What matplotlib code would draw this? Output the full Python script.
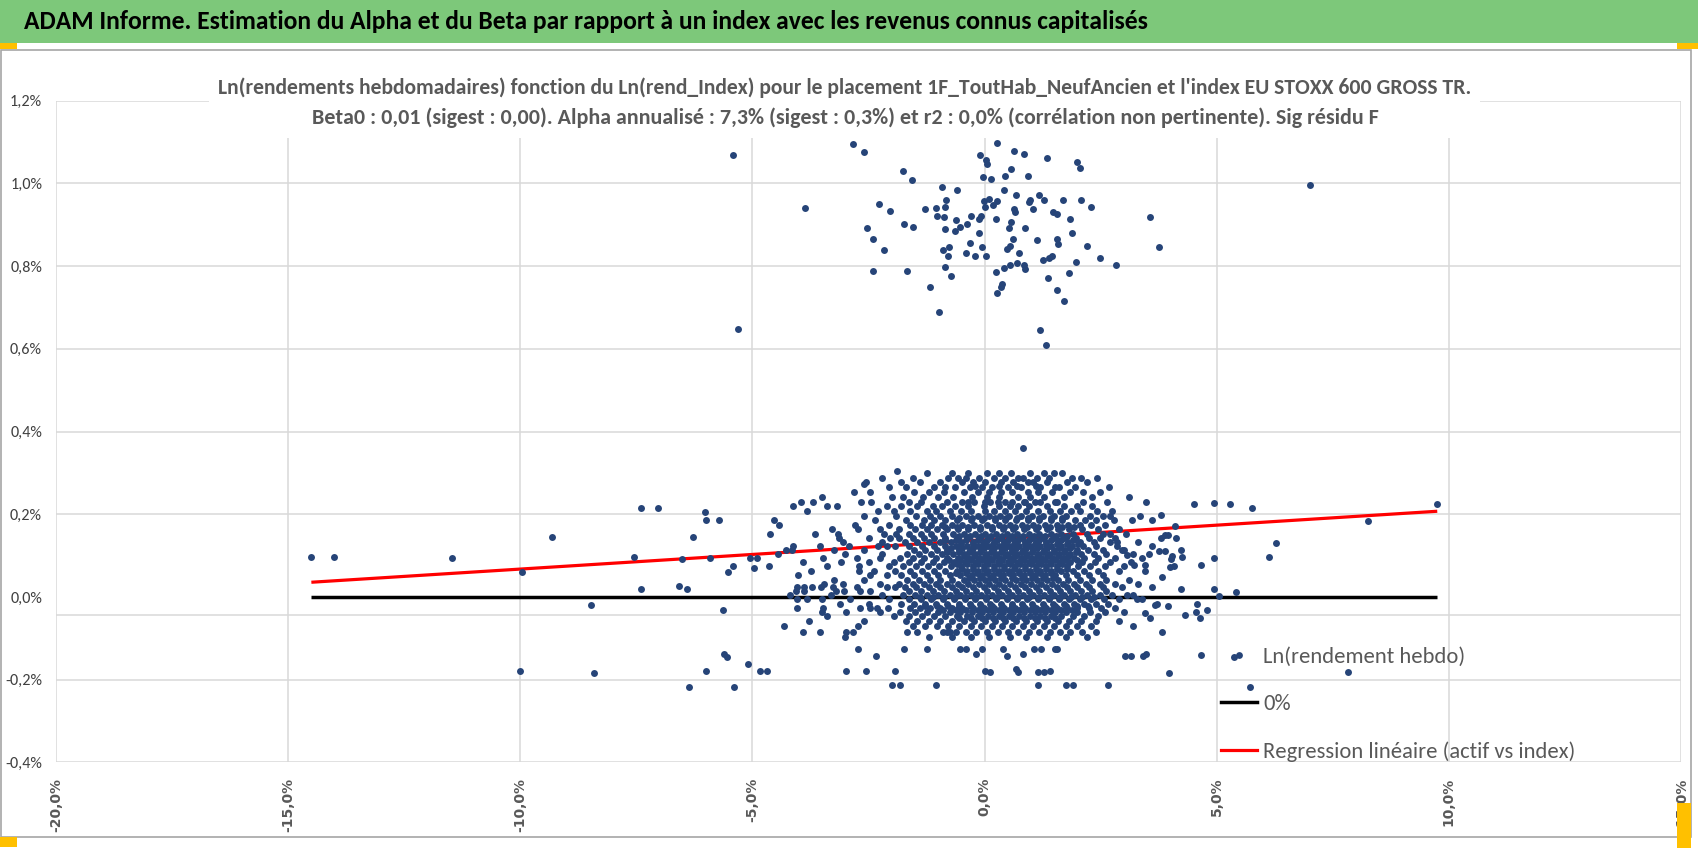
import numpy as np
import matplotlib
matplotlib.use('Agg')
import matplotlib.pyplot as plt
from matplotlib import font_manager
from matplotlib.lines import Line2D
from matplotlib.patches import Rectangle

# ---------------- texts ----------------
title_text = "ADAM Informe. Estimation du Alpha et du Beta par rapport à un index avec les revenus connus capitalisés"
subtitle_1 = ("Ln(rendements hebdomadaires) fonction du Ln(rend_Index) pour le placement "
              "1F_ToutHab_NeufAncien et l'index EU STOXX 600 GROSS TR.")
subtitle_2 = ("Beta0 : 0,01 (sigest : 0,00). Alpha annualisé : 7,3% (sigest : 0,3%) et r2 : 0,0% "
              "(corrélation non pertinente). Sig résidu F")
series_labels = ['Ln(rendement hebdo)', '0%', 'Regression linéaire (actif vs index)']

x_ticks = [-20, -15, -10, -5, 0, 5, 10, 15]
x_tick_labels = ['-20,0%', '-15,0%', '-10,0%', '-5,0%', '0,0%', '5,0%', '10,0%', '15,0%']
y_ticks = [-0.4, -0.2, 0.0, 0.2, 0.4, 0.6, 0.8, 1.0, 1.2]
y_tick_labels = ['-0,4%', '-0,2%', '0,0%', '0,2%', '0,4%', '0,6%', '0,8%', '1,0%', '1,2%']

# regression and reference level (in %)
reg_slope = 0.00708
reg_intercept = 0.1381
zero_level = 0.0

# ---------------- data (x = Ln rend index %, y = Ln rend hebdo %) ----------------
upper_pts = [
    (-5.42, 1.068), (-2.84, 1.095), (-2.59, 1.075), (-1.75, 1.029), (-1.57, 1.008), (0.27, 1.098),
    (0.63, 1.078), (0.84, 1.071), (1.34, 1.062), (1.98, 1.052), (2.06, 1.038), (-0.09, 1.068),
    (0.02, 1.056), (0.05, 1.048), (-0.04, 1.016), (0.13, 1.011), (0.43, 1.018), (0.57, 1.034),
    (0.93, 1.018), (-0.91, 0.992), (-0.59, 0.985), (0.41, 0.985), (0.68, 0.972), (-3.86, 0.941),
    (-2.27, 0.949), (-2.04, 0.933), (-1.29, 0.939), (-1.04, 0.941), (-0.86, 0.944), (-0.84, 0.959),
    (-1.02, 0.921), (-0.88, 0.918), (-0.61, 0.911), (-0.02, 0.957), (0.09, 0.962), (0.27, 0.957),
    (0.00, 0.944), (0.18, 0.948), (0.64, 0.937), (0.66, 0.930), (0.95, 0.956), (0.97, 0.959),
    (1.18, 0.971), (1.29, 0.959), (1.04, 0.938), (1.47, 0.932), (1.55, 0.925), (1.68, 0.959),
    (2.07, 0.959), (2.29, 0.944), (1.84, 0.915), (3.57, 0.919), (3.75, 0.845), (-2.54, 0.892),
    (-2.40, 0.866), (-2.16, 0.840), (-1.73, 0.902), (-1.54, 0.895), (-0.86, 0.889), (-0.63, 0.886),
    (-0.54, 0.895), (-0.38, 0.902), (-0.29, 0.922), (-0.13, 0.913), (-0.07, 0.921), (0.25, 0.913),
    (0.57, 0.906), (0.52, 0.892), (0.86, 0.892), (-0.13, 0.879), (0.61, 0.866), (1.13, 0.862),
    (1.57, 0.865), (1.59, 0.854), (1.88, 0.879), (2.20, 0.849), (-0.89, 0.839), (-0.77, 0.845),
    (-0.79, 0.825), (-0.39, 0.832), (-0.31, 0.856), (-0.21, 0.825), (-0.05, 0.845), (0.04, 0.825),
    (0.48, 0.841), (0.54, 0.849), (0.75, 0.832), (1.25, 0.815), (1.38, 0.819), (1.45, 0.825),
    (1.97, 0.809), (2.48, 0.819), (2.82, 0.802), (-2.40, 0.789), (-1.68, 0.789), (-0.86, 0.799),
    (-0.73, 0.776), (0.41, 0.795), (0.55, 0.802), (0.70, 0.808), (0.84, 0.802), (0.88, 0.792),
    (0.25, 0.785), (1.36, 0.772), (1.81, 0.783), (0.38, 0.757), (0.36, 0.749), (0.27, 0.736),
    (-1.18, 0.749), (1.55, 0.742), (1.72, 0.716), (-0.98, 0.689), (-5.31, 0.648), (1.20, 0.645),
    (1.32, 0.610), (7.01, 0.995),
]

left_pts = [
    (-14.50, 0.0975), (-14.02, 0.0975), (-11.48, 0.094), (-9.96, 0.060), (-9.31, 0.145),
    (-8.48, -0.020), (-10.00, -0.179), (-8.42, -0.183), (-7.56, 0.0975), (-7.39, 0.216),
    (-7.04, 0.216), (-7.39, 0.019), (-6.59, 0.027), (-6.40, 0.019), (-6.52, 0.091), (-6.29, 0.145),
    (-6.03, 0.206), (-6.01, 0.185), (-5.72, 0.185), (-5.92, 0.094), (-5.53, 0.060), (-5.41, 0.074),
    (-5.63, -0.031), (-5.61, -0.139), (-5.55, -0.145), (-6.01, -0.180), (-6.37, -0.217),
    (-5.40, -0.217), (-5.09, -0.163), (-4.83, -0.180), (-4.68, -0.180), (-4.97, 0.071),
    (-5.06, 0.093), (-1.89, 0.304), (-2.60, 0.274),
]

right_pts = [
    (4.52, 0.225), (4.95, 0.228), (5.29, 0.225), (5.77, 0.214), (9.75, 0.225), (8.26, 0.184),
    (3.80, 0.198), (4.10, 0.171), (3.81, 0.143), (3.88, 0.149), (3.96, 0.150), (4.13, 0.143),
    (3.75, 0.110), (3.89, 0.110), (4.01, 0.091), (4.03, 0.098), (4.24, 0.114), (4.26, 0.096),
    (3.99, 0.073), (4.09, 0.075), (3.83, 0.049), (4.66, 0.076), (4.95, 0.093), (6.27, 0.130),
    (6.12, 0.096), (4.24, 0.019), (4.95, 0.019), (5.04, 0.002), (5.42, 0.011), (3.67, -0.019),
    (3.94, -0.022), (4.57, -0.018), (4.55, -0.036), (4.31, -0.043), (4.79, -0.032), (4.64, -0.052),
    (3.57, -0.052), (3.82, -0.086), (4.66, -0.140), (5.37, -0.145), (3.98, -0.185), (7.82, -0.181),
    (5.72, -0.218), (2.71, 0.153), (2.85, 0.133), (2.96, 0.113), (3.07, 0.101), (3.21, 0.077),
    (3.46, 0.077), (3.07, 0.004), (3.28, -0.004), (3.46, -0.040), (3.71, -0.016),
]

low_pts = [
    (-2.73, -0.125), (-1.73, -0.125), (-1.25, -0.125), (-0.54, -0.125), (-0.40, -0.125),
    (-0.06, -0.125), (0.39, -0.125), (1.07, -0.125), (1.22, -0.125), (1.52, -0.125), (1.57, -0.125),
    (-2.34, -0.143), (-0.18, -0.139), (0.48, -0.143), (0.83, -0.139), (3.02, -0.143), (3.16, -0.143),
    (3.42, -0.143), (3.47, -0.139), (-2.98, -0.179), (-2.55, -0.179), (-1.94, -0.179), (0.01, -0.179),
    (0.12, -0.181), (0.68, -0.175), (0.72, -0.181), (1.16, -0.181), (1.27, -0.181), (1.40, -0.179),
    (-2.00, -0.212), (-1.83, -0.212), (-1.04, -0.212), (1.16, -0.212), (1.76, -0.212), (1.90, -0.212),
    (2.65, -0.212), (0.82, 0.361),
]

core_rows_y = [0.300, 0.288, 0.278, 0.266, 0.254, 0.242, 0.230, 0.219, 0.207, 0.196, 0.185, 0.174,
               0.164, 0.153, 0.143, 0.133, 0.123, 0.113, 0.103, 0.094, 0.084, 0.074, 0.063, 0.052,
               0.042, 0.032, 0.024, 0.015, 0.005, -0.006, -0.016, -0.026, -0.036, -0.047, -0.058,
               -0.071, -0.085, -0.098]
core_rows_x = [
    [-1.25, -0.70, -0.35, 0.05, 0.30, 0.57, 0.98, 1.28, 1.49, 1.67],
    [-2.20, -1.55, -0.78, -0.58, -0.40, -0.11, 0.20, 0.45, 0.72, 0.83, 1.13, 1.39, 1.88, 2.07, 2.42],
    [-2.55, -1.80, -1.40, -0.95, -0.48, -0.24, 0.00, 0.36, 0.62, 0.93, 1.05, 1.34, 1.77, 2.20],
    [-2.05, -1.70, -1.10, -0.86, -0.63, -0.32, -0.05, 0.17, 0.50, 0.79, 1.20, 1.52, 1.61, 1.95, 2.69],
    [-2.81, -2.47, -1.52, -1.20, -0.88, -0.45, -0.15, 0.10, 0.36, 0.59, 0.93, 1.14, 1.45, 1.83, 2.13, 2.48],
    [-3.50, -2.00, -1.75, -1.32, -1.00, -0.67, -0.27, 0.05, 0.30, 0.71, 0.98, 1.27, 1.70, 2.31, 3.10],
    [-3.96, -3.70, -2.67, -2.45, -1.62, -1.38, -0.81, -0.49, -0.22, 0.12, 0.45, 0.84, 1.09, 1.52, 2.13, 2.63, 3.47],
    [-4.13, -3.40, -3.17, -2.11, -1.79, -1.45, -1.12, -0.92, -0.63, -0.35, -0.02, 0.30, 0.55, 0.73, 0.95, 1.34, 1.70, 1.99, 2.31],
    [-3.83, -2.30, -1.95, -1.60, -1.25, -1.05, -0.75, -0.50, -0.30, 0.00, 0.20, 0.43, 0.66, 0.90, 1.15, 1.40, 1.62, 1.87, 2.05, 2.42, 2.75],
    [-2.60, -1.90, -1.48, -1.18, -0.97, -0.70, -0.40, -0.15, 0.10, 0.33, 0.52, 0.78, 1.02, 1.25, 1.50, 1.76, 2.26, 2.55, 2.71, 3.35],
    [-4.53, -2.35, -1.70, -1.30, -1.08, -0.85, -0.60, -0.30, -0.05, 0.22, 0.45, 0.68, 0.93, 1.18, 1.42, 1.66, 1.95, 2.16, 2.40, 2.78, 3.17, 3.60],
    [-4.42, -2.80, -2.05, -1.60, -1.35, -1.15, -0.92, -0.70, -0.48, -0.22, 0.05, 0.30, 0.55, 0.80, 1.05, 1.30, 1.55, 1.80, 2.05, 2.30, 2.60],
    [-3.29, -2.72, -2.25, -1.85, -1.50, -1.25, -1.02, -0.80, -0.58, -0.35, -0.10, 0.15, 0.40, 0.62, 0.85, 1.10, 1.35, 1.58, 1.82, 2.10, 2.45, 2.90],
    [-4.62, -3.66, -3.15, -2.17, -1.90, -1.62, -1.38, -1.15, -0.90, -0.68, -0.45, -0.20, 0.00, 0.25, 0.48, 0.70, 0.95, 1.18, 1.42, 1.65, 1.90, 2.20, 2.55, 3.05],
    [-3.13, -2.48, -2.04, -1.84, -1.55, -1.30, -1.08, -0.85, -0.60, -0.38, -0.12, 0.10, 0.35, 0.58, 0.80, 1.02, 1.25, 1.50, 1.72, 1.96, 2.25, 2.48, 2.80],
    [-3.04, -2.20, -1.72, -1.45, -1.20, -0.95, -0.72, -0.50, -0.25, -0.02, 0.20, 0.42, 0.65, 0.88, 1.10, 1.33, 1.58, 1.80, 2.05, 2.35, 2.70, 3.30],
    [-4.12, -3.54, -2.91, -2.29, -2.11, -1.93, -1.62, -1.35, -1.10, -0.85, -0.62, -0.38, -0.15, 0.08, 0.30, 0.52, 0.75, 0.98, 1.20, 1.42, 1.65, 1.88, 2.12, 2.40, 2.85, 3.60],
    [-4.28, -4.15, -3.24, -2.60, -1.53, -1.28, -1.02, -0.80, -0.55, -0.30, -0.08, 0.15, 0.38, 0.60, 0.82, 1.05, 1.28, 1.50, 1.73, 1.98, 2.22, 2.55, 3.00],
    [-4.44, -3.00, -2.22, -1.68, -1.42, -1.15, -0.92, -0.68, -0.45, -0.20, 0.02, 0.25, 0.48, 0.70, 0.92, 1.15, 1.38, 1.60, 1.85, 2.08, 2.35, 2.62, 3.20, 3.55],
    [-4.91, -3.47, -2.75, -2.25, -1.82, -1.55, -1.30, -1.05, -0.80, -0.58, -0.35, -0.12, 0.10, 0.32, 0.55, 0.78, 1.00, 1.22, 1.45, 1.68, 1.92, 2.15, 2.45, 2.80, 3.40],
    [-3.92, -3.10, -2.50, -1.95, -1.62, -1.38, -1.12, -0.88, -0.65, -0.42, -0.18, 0.05, 0.28, 0.50, 0.72, 0.95, 1.18, 1.40, 1.62, 1.85, 2.10, 2.38, 2.70, 3.15],
    [-4.65, -3.40, -2.70, -2.05, -1.75, -1.48, -1.22, -0.98, -0.72, -0.50, -0.25, -0.02, 0.20, 0.42, 0.65, 0.88, 1.10, 1.32, 1.55, 1.78, 2.02, 2.28, 2.60, 3.00],
    [-3.74, -2.70, -2.38, -1.93, -1.60, -1.35, -1.10, -0.85, -0.60, -0.38, -0.15, 0.08, 0.30, 0.52, 0.75, 0.98, 1.20, 1.42, 1.65, 1.90, 2.15, 2.45, 2.90, 3.45],
    [-4.02, -2.47, -2.10, -1.79, -1.53, -1.25, -1.00, -0.75, -0.52, -0.28, -0.05, 0.18, 0.40, 0.62, 0.85, 1.08, 1.30, 1.52, 1.75, 2.00, 2.25, 2.55],
    [-3.25, -2.60, -1.68, -1.42, -1.18, -0.95, -0.70, -0.45, -0.22, 0.00, 0.22, 0.45, 0.68, 0.90, 1.12, 1.35, 1.58, 1.80, 2.05, 2.32, 2.62, 3.10],
    [-3.45, -3.04, -2.25, -1.85, -1.55, -1.30, -1.05, -0.80, -0.58, -0.35, -0.12, 0.10, 0.32, 0.55, 0.78, 1.00, 1.22, 1.45, 1.68, 1.92, 2.18, 2.48, 2.80, 3.30],
    [-4.05, -3.90, -3.71, -3.53, -3.26, -2.74, -2.11, -1.93, -1.72, -1.48, -1.20, -0.95, -0.70, -0.48, -0.25, -0.02, 0.20, 0.42, 0.65, 0.88, 1.10, 1.32, 1.55, 1.78, 2.00, 2.25, 2.55, 2.95, 3.60],
    [-4.06, -3.88, -3.19, -3.03, -2.68, -2.47, -1.62, -1.38, -1.12, -0.88, -0.62, -0.40, -0.18, 0.05, 0.28, 0.50, 0.72, 0.95, 1.18, 1.40, 1.62, 1.85, 2.08, 2.32, 2.62],
    [-4.20, -3.30, -2.20, -1.75, -1.50, -1.25, -1.00, -0.75, -0.52, -0.30, -0.08, 0.15, 0.38, 0.60, 0.82, 1.05, 1.28, 1.50, 1.72, 1.95, 2.20, 2.48, 2.75, 3.20],
    [-4.05, -3.82, -3.51, -2.90, -2.05, -1.62, -1.38, -1.15, -0.90, -0.65, -0.42, -0.20, 0.02, 0.25, 0.48, 0.70, 0.92, 1.15, 1.38, 1.60, 1.82, 2.05, 2.30, 2.58, 2.90, 3.40],
    [-3.11, -2.50, -1.80, -1.52, -1.28, -1.05, -0.80, -0.55, -0.32, -0.10, 0.12, 0.35, 0.58, 0.80, 1.02, 1.25, 1.48, 1.70, 1.92, 2.15, 2.40, 2.65],
    [-4.04, -3.47, -2.68, -2.47, -2.31, -2.08, -1.61, -1.40, -1.18, -0.95, -0.70, -0.48, -0.25, -0.02, 0.20, 0.42, 0.65, 0.88, 1.10, 1.32, 1.55, 1.78, 2.00, 2.25, 2.50, 2.80],
    [-3.51, -2.99, -2.25, -1.82, -1.50, -1.25, -1.00, -0.75, -0.52, -0.28, -0.05, 0.18, 0.40, 0.62, 0.85, 1.08, 1.30, 1.52, 1.75, 2.00, 2.28, 2.60, 3.00],
    [-3.40, -1.95, -1.62, -1.35, -1.10, -0.85, -0.60, -0.38, -0.15, 0.08, 0.30, 0.52, 0.75, 0.98, 1.20, 1.42, 1.65, 1.90, 2.15, 2.45],
    [-3.78, -2.60, -1.70, -1.45, -1.20, -0.95, -0.70, -0.45, -0.22, 0.00, 0.22, 0.45, 0.68, 0.90, 1.12, 1.35, 1.58, 1.82, 2.08, 2.40, 2.90],
    [-4.32, -2.73, -1.55, -1.28, -1.02, -0.78, -0.55, -0.30, -0.08, 0.15, 0.38, 0.60, 0.82, 1.05, 1.28, 1.50, 1.75, 2.00, 2.30, 3.20],
    [-3.91, -3.54, -2.99, -2.83, -1.68, -1.45, -0.90, -0.82, -0.75, -0.62, -0.40, -0.18, 0.05, 0.28, 0.50, 0.72, 0.95, 1.18, 1.40, 1.62, 1.85, 2.10, 2.40],
    [-3.00, -1.20, -0.70, -0.30, 0.10, 0.55, 0.90, 1.35, 1.75, 2.20],
]

dense_rows_y = [0.268, 0.230, 0.190, 0.170, 0.148, 0.138, 0.128, 0.118, 0.108, 0.099, 0.089, 0.079,
                0.068, 0.057, 0.046, -0.001, -0.021, -0.031, -0.052]
dense_rows_x = [
    [-0.20, 0.30, 0.70, 1.10],
    [-0.35, 0.00, 0.28, 0.58, 0.88, 1.20, 1.55],
    [-0.55, -0.28, -0.02, 0.22, 0.46, 0.70, 0.94, 1.18, 1.42, 1.66],
    [-0.85, -0.60, -0.35, -0.10, 0.16, 0.42, 0.66, 0.92, 1.16, 1.40, 1.66, 1.92],
    [-0.55, -0.32, -0.08, 0.14, 0.37, 0.60, 0.83, 1.06, 1.30, 1.53, 1.77],
    [-0.85, -0.62, -0.40, -0.15, 0.05, 0.27, 0.50, 0.72, 0.95, 1.18, 1.42, 1.65, 1.90],
    [-0.50, -0.26, -0.03, 0.19, 0.41, 0.64, 0.86, 1.09, 1.32, 1.55, 1.78, 2.02],
    [-0.72, -0.48, -0.25, -0.02, 0.21, 0.45, 0.68, 0.90, 1.12, 1.35, 1.60, 1.83],
    [-0.80, -0.56, -0.33, -0.10, 0.13, 0.36, 0.58, 0.80, 1.03, 1.26, 1.49, 1.72, 1.96],
    [-0.45, -0.22, 0.00, 0.22, 0.44, 0.66, 0.89, 1.12, 1.35, 1.58, 1.80],
    [-0.76, -0.52, -0.30, -0.06, 0.16, 0.38, 0.61, 0.84, 1.07, 1.30, 1.52, 1.75, 1.98],
    [-0.60, -0.38, -0.14, 0.08, 0.31, 0.54, 0.76, 0.99, 1.22, 1.44, 1.66],
    [-0.48, -0.25, -0.02, 0.20, 0.42, 0.64, 0.87, 1.10, 1.32, 1.55, 1.78],
    [-0.62, -0.40, -0.16, 0.06, 0.28, 0.52, 0.75, 0.97, 1.20, 1.42],
    [-0.34, -0.10, 0.12, 0.35, 0.58, 0.80, 1.02, 1.25, 1.48],
    [-1.40, -1.12, -0.88, -0.64, -0.42, -0.18, 0.04, 0.27, 0.50, 0.72, 0.95, 1.18, 1.40, 1.63, 1.86, 2.10, 2.35],
    [-1.28, -1.02, -0.78, -0.55, -0.30, -0.08, 0.15, 0.38, 0.60, 0.82, 1.05, 1.28, 1.52, 1.75, 1.98, 2.22],
    [-0.90, -0.62, -0.40, -0.15, 0.08, 0.30, 0.52, 0.75, 0.98, 1.20, 1.42, 1.65, 1.88],
    [-0.55, -0.30, -0.05, 0.18, 0.40, 0.62, 0.85, 1.08, 1.30, 1.52],
]

# ---------------- assemble series ----------------
xs, ys = [], []
for grp in (upper_pts, left_pts, right_pts, low_pts):
    for px_, py_ in grp:
        xs.append(px_)
        ys.append(py_)
for rows_y, rows_x in ((core_rows_y, core_rows_x), (dense_rows_y, dense_rows_x)):
    for yv, row in zip(rows_y, rows_x):
        for xv in row:
            xs.append(xv)
            ys.append(yv)
xs = np.array(xs)
ys = np.array(ys)

# ---------------- fonts ----------------
avail = {f.name for f in font_manager.fontManager.ttflist}
narrow = 'Liberation Sans'
for cand in ['Carlito', 'Liberation Sans Narrow', 'Roboto Condensed', 'Open Sans Condensed',
             'DejaVu Sans Condensed', 'Noto Sans Condensed', 'Arial Narrow']:
    if cand in avail:
        narrow = cand
        break

W, H = 1698, 855
fig = plt.figure(figsize=(W / 100, H / 100), dpi=100)
fig.patch.set_facecolor('white')


def fx(px):
    return px / W


def fy(py):
    return 1 - py / H


renderer = fig.canvas.get_renderer()


def size_for(text, target_px, **kw):
    t = fig.text(0, 0, text, fontsize=14, **kw)
    w = t.get_window_extent(renderer).width
    t.remove()
    return 14 * target_px / w


def fit_width(t, target):
    w = t.get_window_extent(renderer).width
    t.set_fontsize(t.get_fontsize() * target / w)


ax_left, ax_right, ax_top, ax_bottom = 56, 1681, 100.7, 762.3
ax = fig.add_axes([fx(ax_left), fy(ax_bottom), (ax_right - ax_left) / W, (ax_bottom - ax_top) / H])
ax.set_xlim(-20, 15)
ax.set_ylim(-0.4, 1.2)

grid_c = '#D9D9D9'
for s in ax.spines.values():
    s.set_visible(False)
for xv in x_ticks:
    ax.axvline(xv, color=grid_c, lw=1.1, zorder=0)
for yv in y_ticks:
    if yv != zero_level:
        ax.axhline(yv, color=grid_c, lw=1.1, zorder=0)
ax.axhline(-0.0447, color=grid_c, lw=1.1, zorder=0)

# lines
x_line = np.array([xs.min(), xs.max()])
ax.plot(x_line, np.full(2, zero_level), color='black', lw=2.5, zorder=2, solid_capstyle='butt')
ax.plot(x_line, reg_intercept + reg_slope * x_line, color='#FF0000', lw=2.3, zorder=2,
        solid_capstyle='butt')
ax.scatter(xs, ys, s=25, color='#264478', linewidths=0, zorder=3)

ytick_fs = size_for('1,2%', 32, family=narrow)
ax.set_xticks(x_ticks)
ax.set_xticklabels(x_tick_labels, rotation=90, fontfamily='DejaVu Sans', fontweight='bold',
                   fontsize=10, color='#595959')
ax.set_yticks(y_ticks)
ax.set_yticklabels(y_tick_labels, fontfamily=narrow, fontsize=ytick_fs, color='#404040')
ax.tick_params(axis='both', length=0)
ax.tick_params(axis='x', pad=11)
ax.tick_params(axis='y', pad=10)

# legend
leg_fs = size_for(series_labels[2], 312, family=narrow)
fs_px = leg_fs * 100 / 72
handles = [Line2D([], [], ls='none', marker='o', ms=4.9, color='#264478', mew=0),
           Line2D([], [], color='black', lw=2.5),
           Line2D([], [], color='#FF0000', lw=2.3)]
leg = ax.legend(handles, series_labels, loc='upper left',
                bbox_to_anchor=(fx(1221), fy(660.5 - 0.62 * fs_px)), bbox_transform=fig.transFigure,
                frameon=False, prop={'family': narrow, 'size': leg_fs}, labelcolor='#595959',
                borderpad=0, borderaxespad=0, handlelength=36 / fs_px, handletextpad=6 / fs_px,
                labelspacing=(53.5 - 1.17 * fs_px) / fs_px)

# header green bar
fig.add_artist(Rectangle((0, fy(42.7)), 1, 42.7 / H, transform=fig.transFigure,
                         facecolor='#7DC87A', edgecolor='none', zorder=1))
t0 = fig.text(fx(24), fy(21.5), title_text, ha='left', va='center', family=narrow,
              fontweight='bold', color='black', fontsize=18, zorder=6)
fit_width(t0, 1124)

# chart frame
fig.add_artist(Rectangle((fx(1), fy(837)), (1691 - 1) / W, (837 - 50) / H, transform=fig.transFigure,
                         facecolor='none', edgecolor='#A6A6A6', lw=1.2, zorder=4))
# selection handles
for (x0, y0, w0, h0) in [(0, 42.7, 17, 6.5), (1677, 42.7, 21, 6.5), (0, 837, 17, 10), (1677, 803, 14, 45)]:
    fig.add_artist(Rectangle((fx(x0), fy(y0 + h0)), w0 / W, h0 / H, transform=fig.transFigure,
                             facecolor='#FFC000', edgecolor='none', zorder=7))

# chart title box (white) and lines
fig.add_artist(Rectangle((fx(209), fy(138)), (1480 - 209) / W, (138 - 70) / H, transform=fig.transFigure,
                         facecolor='white', edgecolor='none', zorder=5))
t1 = fig.text(fx(845), fy(88), subtitle_1, ha='center', va='center', family=narrow,
              fontweight='bold', color='#595959', fontsize=14, zorder=6)
fit_width(t1, 1258)
t2 = fig.text(fx(845), fy(118), subtitle_2, ha='center', va='center', family=narrow,
              fontweight='bold', color='#595959', fontsize=14, zorder=6)
fit_width(t2, 1069)

fig.savefig('out.png', dpi=100, facecolor='white')
